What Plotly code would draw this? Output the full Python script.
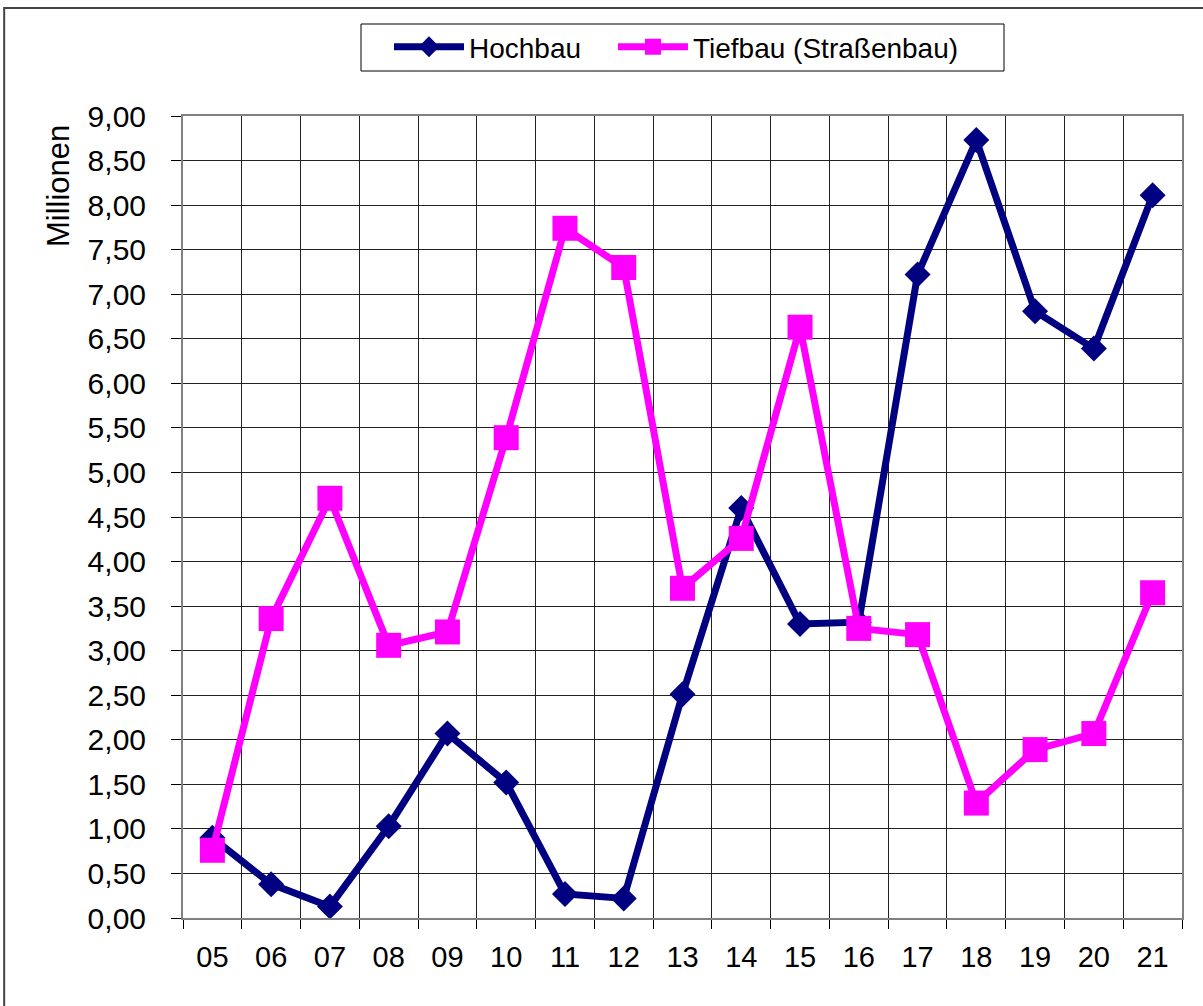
import plotly.graph_objects as go

years = ["05", "06", "07", "08", "09", "10", "11", "12", "13", "14", "15", "16", "17", "18", "19", "20", "21"]
hochbau = [0.90, 0.38, 0.13, 1.03, 2.07, 1.52, 0.27, 0.22, 2.51, 4.60, 3.30, 3.32, 7.22, 8.73, 6.81, 6.39, 8.11]
tiefbau = [0.76, 3.36, 4.71, 3.06, 3.21, 5.39, 7.74, 7.30, 3.70, 4.26, 6.63, 3.25, 3.18, 1.29, 1.89, 2.07, 3.65]

FONT = "Liberation Sans, Arial, sans-serif"

fig = go.Figure()
fig.add_trace(go.Scatter(
    x=years, y=hochbau, name="Hochbau", mode="lines+markers",
    line=dict(color="#000080", width=7),
    marker=dict(symbol="diamond", size=20, color="#000080"),
    legend="legend",
))
fig.add_trace(go.Scatter(
    x=years, y=tiefbau, name="Tiefbau (Straßenbau)", mode="lines+markers",
    line=dict(color="#FF00FF", width=7),
    marker=dict(symbol="square", size=25, color="#FF00FF"),
    legend="legend2",
))

leg_common = dict(
    orientation="h", yanchor="middle", y=1.086, xanchor="left",
    bgcolor="rgba(0,0,0,0)", borderwidth=0,
    font=dict(family=FONT, size=28, color="black"), itemwidth=70,
)

fig.update_layout(
    width=1203, height=1006,
    margin=dict(l=183, r=21, t=116, b=88),
    paper_bgcolor="white", plot_bgcolor="white",
    separators=",.",
    font=dict(family=FONT, size=28, color="black"),
    showlegend=True,
    legend=dict(x=0.2062, **leg_common),
    legend2=dict(x=0.4304, **leg_common),
    xaxis=dict(
        type="category", tickson="boundaries", ticks="outside", ticklen=9,
        tickcolor="black", showgrid=True, gridcolor="#222", gridwidth=1,
        showline=True, linecolor="#808080", linewidth=2, mirror=True,
        range=[-0.5, 16.5], ticklabelstandoff=12,
        tickfont=dict(family=FONT, size=29),
    ),
    yaxis=dict(
        range=[0, 9], dtick=0.5, tickformat=".2f", ticks="outside", ticklen=10,
        tickcolor="black", showgrid=True, gridcolor="#222", gridwidth=1,
        showline=True, linecolor="#808080", linewidth=2, mirror=True,
        zeroline=False, ticklabelstandoff=19,
        tickfont=dict(family=FONT, size=30),
    ),
)

# axis title placed near the top of the value axis, as in the reference
fig.add_annotation(text="Millionen", xref="paper", yref="paper",
                   x=(58 - 183) / 999, y=(918 - 186) / 802,
                   xanchor="center", yanchor="middle", textangle=-90,
                   showarrow=False, font=dict(family=FONT, size=31, color="black"))

# outer chart frame
fig.add_shape(type="rect", xref="paper", yref="paper",
              x0=-0.179, y0=-0.13, x1=1.05, y1=1.1347,
              line=dict(color="#444", width=2), fillcolor="rgba(0,0,0,0)", layer="below")
# legend box
fig.add_shape(type="rect", xref="paper", yref="paper",
              x0=(361 - 183) / 999, x1=(1004 - 183) / 999,
              y0=(918 - 71) / 802, y1=(918 - 24) / 802,
              line=dict(color="black", width=1), fillcolor="white", layer="below")

fig.write_html("out.html", config={"displayModeBar": False},
               post_script="document.body.style.margin='0';")
